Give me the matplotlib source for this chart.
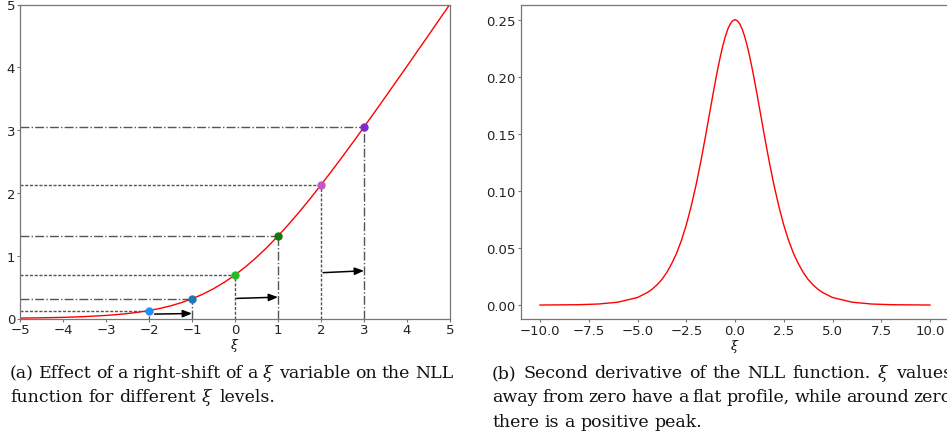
import matplotlib
matplotlib.use('Agg')
import matplotlib.pyplot as plt

W, H = 947, 439

# softplus-like NLL curve
nll_x = [-5.0, -4.5, -4.0, -3.5, -3.0, -2.75, -2.5, -2.25, -2.0, -1.75, -1.5, -1.25,
         -1.0, -0.75, -0.5, -0.25, 0.0, 0.25, 0.5, 0.75, 1.0, 1.25, 1.5, 1.75, 2.0,
         2.25, 2.5, 2.75, 3.0, 3.5, 4.0, 4.5, 5.0]
nll_y = [0.007, 0.011, 0.018, 0.030, 0.049, 0.062, 0.079, 0.100, 0.127, 0.160, 0.201, 0.252,
         0.313, 0.387, 0.474, 0.576, 0.693, 0.826, 0.974, 1.137, 1.313, 1.502, 1.701, 1.910,
         2.127, 2.350, 2.579, 2.812, 3.049, 3.530, 4.018, 4.511, 5.007]

# highlighted points
point_x = [-2, -1, 0, 1, 2, 3]
point_y = [0.127, 0.313, 0.693, 1.313, 2.127, 3.049]
point_colors = ['#1e90ff', '#1f77b4', '#1fbf1f', '#0f7a0f', '#c455cc', '#7a2ccc']
point_styles = ['fine', 'dashdot', 'fine', 'dashdot', 'fine', 'dashdot']

# right-shift arrows
arrow_x0 = [-1.87, 0.04, 2.05]
arrow_x1 = [-1.0, 1.0, 3.0]
arrow_y0 = [0.07, 0.32, 0.73]
arrow_y1 = [0.08, 0.34, 0.76]

# second derivative curve
d2_x = [-10, -8, -7, -6, -5, -4.5, -4.25, -4, -3.75, -3.5, -3.25, -3, -2.75, -2.5, -2.25,
        -2, -1.875, -1.75, -1.625, -1.5, -1.375, -1.25, -1.125, -1, -0.875, -0.75, -0.625,
        -0.5, -0.375, -0.25, -0.125, 0, 0.125, 0.25, 0.375, 0.5, 0.625, 0.75, 0.875, 1,
        1.125, 1.25, 1.375, 1.5, 1.625, 1.75, 1.875, 2, 2.25, 2.5, 2.75, 3, 3.25, 3.5,
        3.75, 4, 4.25, 4.5, 5, 6, 7, 8, 10]
d2_y = [0.0000, 0.0003, 0.0009, 0.0025, 0.0066, 0.0109, 0.0139, 0.0177, 0.0224, 0.0285,
        0.0362, 0.0452, 0.0565, 0.0701, 0.0863, 0.1050, 0.1154, 0.1261, 0.1375, 0.1491,
        0.1611, 0.1731, 0.1850, 0.1966, 0.2077, 0.2179, 0.2271, 0.2350, 0.2414, 0.2461,
        0.2490, 0.2500, 0.2490, 0.2461, 0.2414, 0.2350, 0.2271, 0.2179, 0.2077, 0.1966,
        0.1850, 0.1731, 0.1611, 0.1491, 0.1375, 0.1261, 0.1154, 0.1050, 0.0863, 0.0701,
        0.0565, 0.0452, 0.0362, 0.0285, 0.0224, 0.0177, 0.0139, 0.0109, 0.0066, 0.0025,
        0.0009, 0.0003, 0.0000]

cap_a = ["(a) Effect of a right-shift of a $\\xi$ variable on the NLL",
         "function for different $\\xi$ levels."]
cap_b = ["(b) Second derivative of the NLL function. $\\xi$ values",
         "away from zero have a flat profile, while around zero",
         "there is a positive peak."]

plt.rcParams['mathtext.fontset'] = 'dejavuserif'
fig = plt.figure(figsize=(W / 100, H / 100), dpi=100)

line_styles = {'fine': (0, (2.2, 1.2)), 'dashdot': '-.'}


def px_axes(left, top, right, bottom):
    return fig.add_axes([left / W, 1 - bottom / H, (right - left) / W, (bottom - top) / H])


def style(ax):
    for s in ax.spines.values():
        s.set_color('#777777')
        s.set_linewidth(0.9)
    ax.tick_params(length=2, width=0.8, color='#777777', pad=1.5,
                   labelsize=9.5, labelcolor='#222222')


# left panel
ax1 = px_axes(20, 5.5, 450, 319.5)
ax1.plot(nll_x, nll_y, color='red', lw=1)
for x, y, c, ls in zip(point_x, point_y, point_colors, point_styles):
    ax1.plot([-5, x], [y, y], color='#555555', ls=line_styles[ls], lw=1)
    ax1.plot([x, x], [0, y], color='#555555', ls=line_styles[ls], lw=1)
    ax1.plot(x, y, 'o', color=c, ms=5, zorder=5)
for xa, xb, ya, yb in zip(arrow_x0, arrow_x1, arrow_y0, arrow_y1):
    ax1.annotate('', xy=(xb, yb), xytext=(xa, ya),
                 arrowprops=dict(arrowstyle='-|>,head_length=0.55,head_width=0.22',
                                 color='black', lw=1.1, shrinkA=0, shrinkB=0))
ax1.set_xlim(-5, 5)
ax1.set_ylim(0, 5)
ax1.set_xticks(range(-5, 6))
ax1.set_yticks(range(0, 6))
ax1.set_xlabel('$\\xi$', fontsize=9, labelpad=0)
style(ax1)

# right panel
ax2 = px_axes(520.5, 6.4, 949.5, 320.3)
ax2.plot(d2_x, d2_y, color='red', lw=1)
ax2.set_xlim(-11, 11)
ax2.set_ylim(-0.0125, 0.2625)
ax2.set_xticks([-10, -7.5, -5, -2.5, 0, 2.5, 5, 7.5, 10])
ax2.set_xticklabels(['−10.0', '−7.5', '−5.0', '−2.5', '0.0', '2.5', '5.0', '7.5', '10.0'])
ax2.set_yticks([0, 0.05, 0.10, 0.15, 0.20, 0.25])
ax2.set_yticklabels(['0.00', '0.05', '0.10', '0.15', '0.20', '0.25'])
ax2.set_xlabel('$\\xi$', fontsize=9, labelpad=0)
style(ax2)

# captions, justified word by word like the paper's columns
renderer = fig.canvas.get_renderer()
cap_size = 12.5
cap_font = dict(family='DejaVu Serif', fontsize=cap_size, color='#111111', va='baseline')


def put_line(line, x0, x1, y, justify):
    words = line.split(' ')
    texts = [fig.text(0, 1 - y / H, w, **cap_font) for w in words]
    widths = [t.get_window_extent(renderer).width for t in texts]
    gap = cap_size * 0.32 * 100 / 72
    if justify and len(words) > 1:
        gap = (x1 - x0 - sum(widths)) / (len(words) - 1)
    x = x0
    for t, w in zip(texts, widths):
        t.set_x(x / W)
        x += w + gap


for i, line in enumerate(cap_a):
    put_line(line, 10, 453, 378 + 24 * i, i < len(cap_a) - 1)
for i, line in enumerate(cap_b):
    put_line(line, 492, 952, 378 + 24.5 * i, i < len(cap_b) - 1)

fig.savefig('out.png', dpi=100)
